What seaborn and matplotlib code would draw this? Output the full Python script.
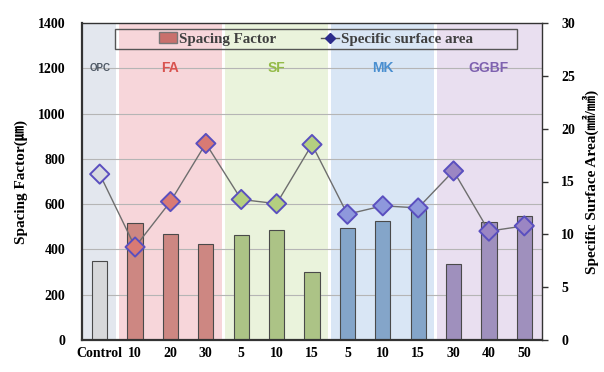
import matplotlib
matplotlib.use("Agg")
import matplotlib.pyplot as plt
import seaborn as sns
import pandas as pd
import numpy as np
from matplotlib.patches import Patch, Rectangle
from matplotlib.lines import Line2D

# ---- data ----
tick_labels = ["Control", "10", "20", "30", "5", "10", "15", "5", "10", "15", "30", "40", "50"]
groups = ["OPC", "FA", "FA", "FA", "SF", "SF", "SF", "MK", "MK", "MK", "GGBF", "GGBF", "GGBF"]
spacing_factor = [350, 515, 466, 422, 462, 488, 300, 495, 524, 575, 336, 521, 549]
surface_area = [15.7, 8.8, 13.1, 18.6, 13.3, 12.9, 18.5, 11.9, 12.7, 12.5, 16.0, 10.3, 10.8]
group_names = ["OPC", "FA", "SF", "MK", "GGBF"]

bar_colors = {"OPC": "#d6d8da", "FA": "#d97c75", "SF": "#aecd7c", "MK": "#78a5d4", "GGBF": "#9d88c4"}
marker_colors = {"OPC": "#d8dbe0", "FA": "#d97a74", "SF": "#b4cf80", "MK": "#8e98dc", "GGBF": "#9b86c3"}
bg_colors = {"OPC": "#e3e7ee", "FA": "#f7d6da", "SF": "#eaf3dc", "MK": "#d9e6f5", "GGBF": "#e9dff0"}
label_colors = {"OPC": "#505a66", "FA": "#d9534f", "SF": "#94bb48", "MK": "#4a8fd0", "GGBF": "#7f62b0"}

df = pd.DataFrame({
    "pos": list(range(len(tick_labels))),
    "group": groups,
    "sf": spacing_factor,
    "ssa": surface_area,
})

serif = ["Liberation Serif", "Noto Sans CJK SC", "DejaVu Serif"]

fig = plt.figure(figsize=(6.04, 3.72), dpi=100)
ax = fig.add_axes([82 / 604, 32 / 372, 460 / 604, 317 / 372])

# background bands
bounds = {"OPC": (-0.5, 0.5), "FA": (0.5, 3.5), "SF": (3.5, 6.5), "MK": (6.5, 9.5), "GGBF": (9.5, 12.5)}
gap = 0.04
for g, (a, b) in bounds.items():
    lo = a + (gap if a > -0.5 else 0)
    hi = b - (gap if b < 12.5 else 0)
    ax.axvspan(lo, hi, color=bg_colors[g], zorder=0, lw=0)

for y in range(200, 1400, 200):
    ax.axhline(y, color="#b5b5b5", lw=0.8, zorder=0.5)

sns.barplot(data=df, x="pos", y="sf", hue="group", palette=bar_colors, dodge=False,
            width=0.43, edgecolor="#4a4a4a", linewidth=0.8, legend=False, ax=ax, zorder=2)

ax.set_xlim(-0.5, 12.5)
ax.set_ylim(0, 1400)
ax.set_yticks(range(0, 1401, 200))
ax.set_xticks(range(len(tick_labels)))
ax.set_xticklabels(tick_labels)
ax.set_xlabel("")
ax.set_ylabel("Spacing Factor(㎛)", fontsize=11, fontweight="bold", family=serif, labelpad=7)
for lab in ax.get_xticklabels() + ax.get_yticklabels():
    lab.set_fontfamily(serif)
    lab.set_fontweight("bold")
    lab.set_fontsize(10)
ax.tick_params(axis="both", length=0, pad=5)
ax.tick_params(axis="y", pad=12)
for s in ax.spines.values():
    s.set_color("#333333")
    s.set_linewidth(1.0)
ax.spines["left"].set_linewidth(1.6)
ax.spines["bottom"].set_linewidth(1.6)

# group labels
label_x = {"OPC": 0.0, "FA": 2.0, "SF": 5.0, "MK": 8.0, "GGBF": 11.0}
for g in group_names:
    fs = 7 if g == "OPC" else 10
    ax.text(label_x[g], 1200, g, ha="center", va="center", fontsize=fs, fontweight="bold",
            family="Liberation Sans", color=label_colors[g], zorder=3)

# secondary axis
ax2 = ax.twinx()
sns.lineplot(data=df, x="pos", y="ssa", color="#6e6e6e", lw=1.0, ax=ax2, zorder=3)
sns.scatterplot(data=df, x="pos", y="ssa", hue="group", palette=marker_colors, marker="D",
                s=95, edgecolor="#5a4fbf", linewidth=1.4, legend=False, ax=ax2, zorder=4)
ax2.set_ylim(0, 30)
ax2.set_yticks(range(0, 31, 5))
ax2.set_xlim(-0.5, 12.5)
ax2.set_ylabel("Specific Surface Area(㎟/㎣)", fontsize=11, fontweight="bold", family=serif, labelpad=5)
for lab in ax2.get_yticklabels():
    lab.set_fontfamily(serif)
    lab.set_fontweight("bold")
    lab.set_fontsize(10)
ax2.tick_params(axis="y", length=4, width=1, color="#333333", pad=10)
for s in ax2.spines.values():
    s.set_visible(False)

# legend
x0, x1 = (114.7 - 82) / 460, (517 - 82) / 460
y0, y1 = (340 - 48.7) / 317, (340 - 29.3) / 317
ax2.add_patch(Rectangle((x0, y0), x1 - x0, y1 - y0, transform=ax2.transAxes, fill=False,
                        edgecolor="#555555", lw=1.0, zorder=5))
handles = [Patch(facecolor="#c9706c", edgecolor="#777777", label="Spacing Factor"),
           Line2D([0], [0], color="#555555", lw=1, marker="D", markersize=5,
                  markerfacecolor="#2c2c8c", markeredgecolor="#2c2c8c", label="Specific surface area")]
leg = ax2.legend(handles=handles, ncol=2, loc="center", bbox_to_anchor=((x0 + x1) / 2, (y0 + y1) / 2),
                 frameon=False, handlelength=1.2, handletextpad=0.15, columnspacing=3.0,
                 prop={"family": serif, "weight": "bold", "size": 10.8})
for t in leg.get_texts():
    t.set_color("#404040")

fig.savefig("out.png", dpi=100)
